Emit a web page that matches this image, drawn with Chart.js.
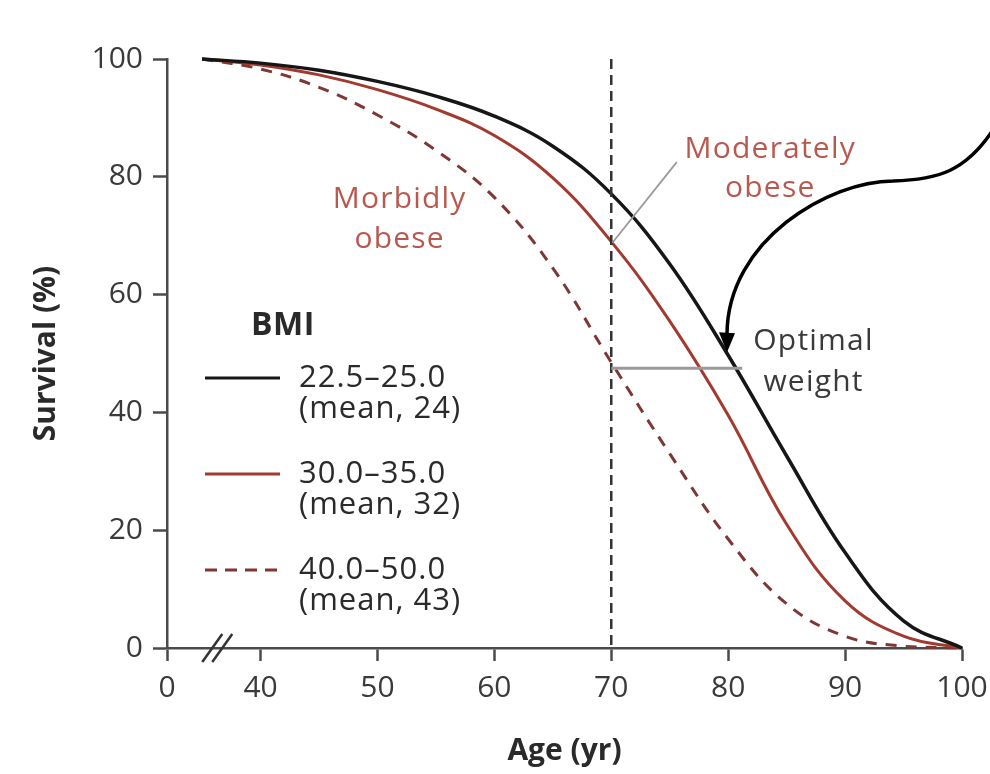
<!DOCTYPE html>
<html>
<head>
<meta charset="utf-8">
<script src="https://cdn.jsdelivr.net/npm/chart.js@4/dist/chart.umd.min.js"></script>
<style>
  html, body { margin: 0; padding: 0; background: #fff; }
  canvas { display: block; }
</style>
</head>
<body>
<canvas id="survivalChart" width="990" height="774"></canvas>
<script>
// ages (yr) and survival (%)
const ages = [35, 40, 45, 50, 55, 60, 65, 70, 75, 80, 85, 90, 95, 100];
const optimalWeight = [100, 99.3, 98.1, 96.2, 93.7, 90.3, 85.2, 77.1, 65.2, 49.7, 32.6, 16.2, 4.6, 0];
const moderatelyObese = [100, 99, 97.3, 94.8, 91.5, 87, 79.8, 69, 55.5, 39.5, 21, 8, 2, 0];
const morbidlyObese = [100, 98.3, 95.2, 90.5, 84.5, 76.5, 64.5, 48.5, 33, 18.5, 7.5, 2, 0.3, 0];

const xTickValues = [32, 40, 50, 60, 70, 80, 90, 100];
const xTickLabels = ['0', '40', '50', '60', '70', '80', '90', '100'];

const legendTitle = 'BMI';
const legendRanges = ['22.5\u201325.0', '30.0\u201335.0', '40.0\u201350.0'];
const legendMeans = ['(mean, 24)', '(mean, 32)', '(mean, 43)'];

const FONT = "'Open Sans', sans-serif";
const BLACK = '#161616';
const RED = '#a23a30';
const DASH_RED = '#7e3733';
const NOTE_RED = '#b8594f';
const AXIS = '#4a4a4a';

const toPoints = vals => ages.map((a, i) => ({ x: a, y: vals[i] }));

// annotations and legend drawn on top of the plot
const extras = {
  id: 'extras',
  afterDatasetsDraw(chart) {
    const { ctx, chartArea } = chart;
    const xs = chart.scales.x, ys = chart.scales.y;
    const px = v => xs.getPixelForValue(v);
    const py = v => ys.getPixelForValue(v);
    ctx.save();

    // vertical dashed line at age 70
    ctx.strokeStyle = '#333';
    ctx.lineWidth = 2.5;
    ctx.setLineDash([10, 6]);
    ctx.beginPath();
    ctx.moveTo(px(70), chartArea.top);
    ctx.lineTo(px(70), chartArea.bottom);
    ctx.stroke();
    ctx.setLineDash([]);

    // grey leader lines
    ctx.strokeStyle = '#9a9a9a';
    ctx.lineWidth = 3;
    ctx.beginPath();
    ctx.moveTo(px(70), py(47.5));
    ctx.lineTo(px(81.2), py(47.5));
    ctx.stroke();
    ctx.lineWidth = 1.8;
    ctx.beginPath();
    ctx.moveTo(px(70.1), py(68.8));
    ctx.lineTo(px(75.6), py(82.5));
    ctx.stroke();

    // axis break marks
    ctx.strokeStyle = '#333';
    ctx.lineWidth = 2.5;
    const bx = px(36.3), by = py(0);
    [-5, 5].forEach(o => {
      ctx.beginPath();
      ctx.moveTo(bx + o - 10, by + 14);
      ctx.lineTo(bx + o + 10, by - 14);
      ctx.stroke();
    });

    // curve labels
    ctx.textAlign = 'center';
    ctx.textBaseline = 'middle';
    ctx.font = '30px ' + FONT;
    ctx.letterSpacing = '1.2px';
    ctx.fillStyle = NOTE_RED;
    ctx.fillText('Morbidly', px(51.9), py(76.1));
    ctx.fillText('obese', px(51.9), py(69.3));
    ctx.fillText('Moderately', px(83.6), py(84.6));
    ctx.fillText('obese', px(83.6), py(78.1));
    ctx.fillStyle = '#3a3a3a';
    ctx.fillText('Optimal', px(87.3), py(52));
    ctx.fillText('weight', px(87.3), py(45));

    // curved arrow
    ctx.strokeStyle = '#000';
    ctx.lineWidth = 3.5;
    ctx.beginPath();
    ctx.moveTo(px(102.6), py(87.8));
    ctx.bezierCurveTo(px(100.3), py(81), px(98), py(79.5), px(94.1), py(79.3));
    ctx.bezierCurveTo(px(88.7), py(79.3), px(79.9), py(69.3), px(79.9), py(53.2));
    ctx.stroke();
    const tx = px(79.9), ty = py(50.2);
    ctx.fillStyle = '#000';
    ctx.beginPath();
    ctx.moveTo(tx, ty);
    ctx.lineTo(tx - 8, ty - 20);
    ctx.lineTo(tx + 8, ty - 19);
    ctx.closePath();
    ctx.fill();

    // legend
    const lx = chartArea.left + 38;
    ctx.textAlign = 'left';
    ctx.fillStyle = '#2a2a2a';
    ctx.letterSpacing = '0.5px';
    ctx.font = 'bold 32px ' + FONT;
    ctx.fillText(legendTitle, lx + 46, 326);
    const styles = [
      { color: BLACK, dash: [] },
      { color: RED, dash: [] },
      { color: DASH_RED, dash: [12, 8] }
    ];
    ctx.font = '31px ' + FONT;
    ctx.letterSpacing = '1px';
    legendRanges.forEach((r, i) => {
      const y0 = 378 + i * 96;
      ctx.strokeStyle = styles[i].color;
      ctx.lineWidth = 3;
      ctx.setLineDash(styles[i].dash);
      ctx.beginPath();
      ctx.moveTo(lx, y0);
      ctx.lineTo(lx + 75, y0);
      ctx.stroke();
      ctx.setLineDash([]);
      ctx.fillStyle = '#2a2a2a';
      ctx.fillText(r, lx + 94, y0);
      ctx.fillText(legendMeans[i], lx + 94, y0 + 31);
    });

    ctx.restore();
  }
};

new Chart(document.getElementById('survivalChart'), {
  type: 'line',
  data: {
    datasets: [
      {
        label: legendRanges[0],
        data: toPoints(optimalWeight),
        borderColor: BLACK,
        borderWidth: 3.5
      },
      {
        label: legendRanges[1],
        data: toPoints(moderatelyObese),
        borderColor: RED,
        borderWidth: 3
      },
      {
        label: legendRanges[2],
        data: toPoints(morbidlyObese),
        borderColor: DASH_RED,
        borderWidth: 3,
        borderDash: [11, 9]
      }
    ]
  },
  plugins: [extras],
  options: {
    responsive: false,
    animation: false,
    devicePixelRatio: 1,
    clip: false,
    layout: { padding: { left: 24, top: 59, right: 28, bottom: 1 } },
    elements: {
      point: { radius: 0 },
      line: { tension: 0.4, fill: false }
    },
    plugins: {
      legend: { display: false },
      tooltip: { enabled: false }
    },
    scales: {
      x: {
        type: 'linear',
        min: 32,
        max: 100,
        afterBuildTicks: scale => {
          scale.ticks = xTickValues.map(v => ({ value: v }));
        },
        afterFit: scale => {
          scale.height = 125;
          scale.paddingRight = 0;
        },
        ticks: {
          callback: v => xTickLabels[xTickValues.indexOf(v)],
          font: { family: FONT, size: 30 },
          color: '#3a3a3a',
          padding: 9,
          maxRotation: 0,
          autoSkip: false
        },
        grid: {
          drawOnChartArea: false,
          drawTicks: true,
          tickLength: 13,
          tickWidth: 2.5,
          tickColor: AXIS
        },
        border: { display: true, color: AXIS, width: 2.5 },
        title: {
          display: true,
          text: 'Age (yr)',
          font: { family: FONT, size: 30, weight: 'bold' },
          color: '#2a2a2a'
        }
      },
      y: {
        min: 0,
        max: 100,
        afterFit: scale => { scale.width = 143; },
        ticks: {
          stepSize: 20,
          font: { family: FONT, size: 30 },
          color: '#3a3a3a',
          padding: 10
        },
        grid: {
          drawOnChartArea: false,
          drawTicks: true,
          tickLength: 14,
          tickWidth: 2.5,
          tickColor: AXIS
        },
        border: { display: true, color: AXIS, width: 2.5 },
        title: {
          display: true,
          text: 'Survival (%)',
          font: { family: FONT, size: 30, weight: 'bold' },
          color: '#2a2a2a'
        }
      }
    }
  }
});
</script>
</body>
</html>
